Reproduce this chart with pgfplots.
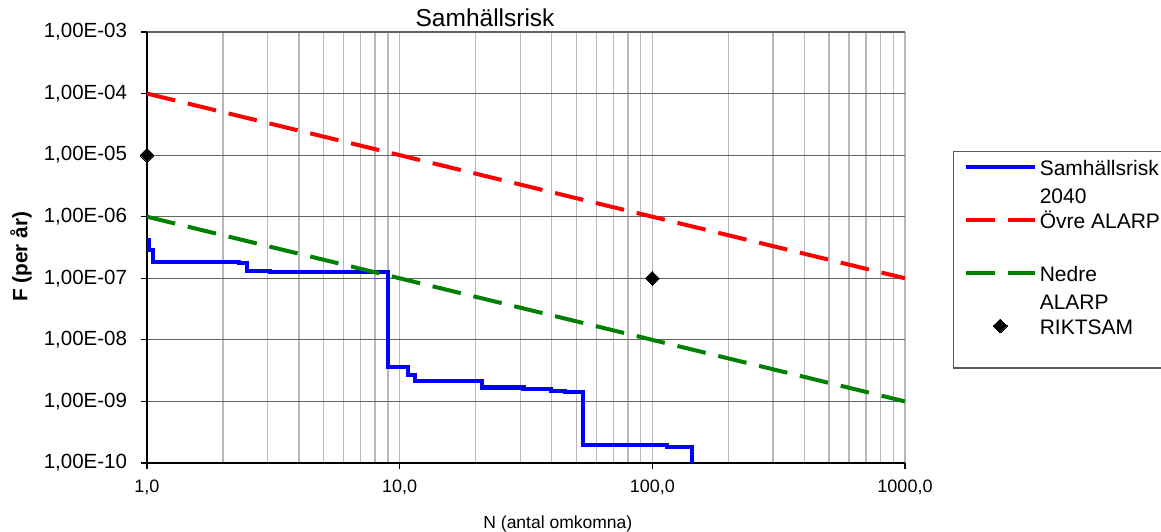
\documentclass[border=0pt]{standalone}
\usepackage{fontspec}
\setmainfont{Liberation Sans}
\usepackage{pgfplots}
\pgfplotsset{compat=1.18}

\definecolor{rdash}{RGB}{255,0,0}
\definecolor{gdash}{RGB}{0,128,0}
\definecolor{bstep}{RGB}{0,0,255}

\begin{document}
\begin{tikzpicture}
\begin{axis}[
    name=ax,
    scale only axis,
    width=758pt, height=431pt,
    xmode=log, ymode=log,
    xmin=1, xmax=1000,
    ymin=1e-10, ymax=1e-3,
    axis lines=left,
    axis line style={-, black, line width=1.4pt},
    tick align=outside,
    major tick length=6.5pt,
    minor tick length=0pt,
    tick style={black, line width=1.2pt},
    xtick={1,10,100,1000},
    xticklabels={{1,0},{10,0},{100,0},{1000,0}},
    ytick={1e-10,1e-9,1e-8,1e-7,1e-6,1e-5,1e-4,1e-3},
    yticklabels={{1,00E-10},{1,00E-09},{1,00E-08},{1,00E-07},{1,00E-06},{1,00E-05},{1,00E-04},{1,00E-03}},
    yminorticks=false,
    xmajorgrids, xminorgrids, ymajorgrids,
    x grid style={black!28, line width=1.4pt},
    y grid style={black!62, line width=1.2pt},
    xticklabel style={font=\fontsize{18}{20}\selectfont, yshift=-7pt},
    yticklabel style={font=\fontsize{20.5}{22}\selectfont, xshift=-10pt},
    title={Samhällsrisk},
    title style={font=\fontsize{24.5}{26}\selectfont, at={(axis description cs:0.446,1.0123)}, anchor=base, inner sep=0pt, yshift=-5.5pt},
    xlabel={N (antal omkomna)},
    xlabel style={font=\fontsize{17.5}{20}\selectfont, at={(axis description cs:0.542,-0.1515)}, anchor=base, inner sep=0pt},
    ylabel={F (per år)},
    ylabel style={font=\bfseries\fontsize{20.8}{22}\selectfont, at={(axis description cs:-0.1662,0.4787)}, anchor=center, rotate=0},
    clip mode=individual,
    legend style={
        at={(axis description cs:1.0633,0.7239)}, anchor=north west,
        draw=black!65, line width=1.2pt,
        inner xsep=10pt, inner ysep=2pt,
        font=\fontsize{21}{28}\selectfont,
        row sep=0pt,
        cells={align=left, inner sep=0pt},
    },
    legend cell align=left,
    legend image code/.code={\draw[#1, mark repeat=2, mark phase=2, yshift=13.5pt] plot coordinates {(0pt,0pt) (34.5pt,0pt) (69pt,0pt)};},
    every axis legend/.append style={column sep=1pt},
]
% samhällsrisk 2040, trappsteg
\addplot[bstep, line width=4.2pt, const plot, line join=miter] coordinates {
    (1.0,4.2e-7)
    (1.02,2.88e-7)
    (1.053,1.84e-7)
    (2.32,1.75e-7)
    (2.48,1.33e-7)
    (3.07,1.27e-7)
    (9.02,3.66e-9)
    (10.8,2.69e-9)
    (11.5,2.14e-9)
    (21.1,1.69e-9)
    (30.9,1.57e-9)
    (39.6,1.49e-9)
    (45.1,1.42e-9)
    (53.3,1.96e-10)
    (114.6,1.84e-10)
    (143.2,1e-10)
};
\addlegendentry{Samhällsrisk\strut\\2040\strut}
\addplot[rdash, line width=4pt, dash pattern=on 29pt off 13pt] coordinates {
    (1,1e-4) (1000,1e-7)
};
\addlegendentry{Övre ALARP\strut\\\strut}
\addplot[gdash, line width=4pt, dash pattern=on 29pt off 13pt] coordinates {
    (1,1e-6) (1000,1e-9)
};
\addlegendentry{Nedre\strut\\ALARP\strut}
\addplot[only marks, mark=square*, mark size=4.9pt, mark options={rotate=45, fill=black, draw=black, line width=0pt}] coordinates {
    (1,1e-5) (100,1e-7)
};
\addlegendentry{RIKTSAM\strut\\\strut}
\end{axis}
\pgfresetboundingbox
\path[use as bounding box] ([xshift=-147pt,yshift=-69pt]ax.south west) rectangle ([xshift=256pt,yshift=32pt]ax.north east);
\end{tikzpicture}
\end{document}
